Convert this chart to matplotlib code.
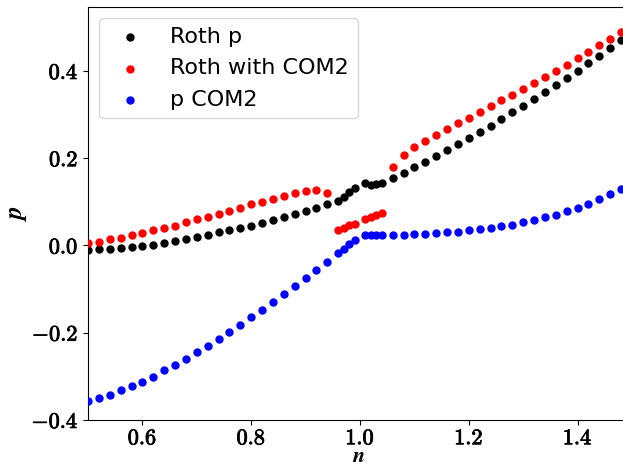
import matplotlib
matplotlib.use('Agg')
import matplotlib.pyplot as plt
import matplotlib.patheffects as pe
from matplotlib.ticker import FuncFormatter

plt.rcParams['mathtext.fontset'] = 'cm'

###
# DATA
###
n = [0.50, 0.52, 0.54, 0.56, 0.58, 0.60, 0.62, 0.64, 0.66, 0.68,
     0.70, 0.72, 0.74, 0.76, 0.78, 0.80, 0.82, 0.84, 0.86, 0.88,
     0.90, 0.92, 0.94, 0.96, 0.97, 0.98, 0.99, 1.01, 1.02, 1.03,
     1.04, 1.06, 1.08, 1.10, 1.12, 1.14, 1.16, 1.18, 1.20, 1.22,
     1.24, 1.26, 1.28, 1.30, 1.32, 1.34, 1.36, 1.38, 1.40, 1.42,
     1.44, 1.46, 1.48]

roth_p = [-0.011, -0.009, -0.008, -0.005, -0.003, -0.001, 0.002, 0.006, 0.010, 0.015,
          0.020, 0.025, 0.031, 0.035, 0.039, 0.045, 0.051, 0.058, 0.065, 0.072,
          0.079, 0.086, 0.094, 0.103, 0.111, 0.122, 0.132, 0.143, 0.139, 0.142,
          0.144, 0.154, 0.167, 0.180, 0.191, 0.205, 0.219, 0.232, 0.246, 0.260,
          0.275, 0.290, 0.305, 0.320, 0.336, 0.351, 0.367, 0.384, 0.401, 0.418,
          0.434, 0.452, 0.471]

roth_com2 = [0.006, 0.009, 0.014, 0.018, 0.024, 0.029, 0.035, 0.041, 0.045, 0.054,
             0.060, 0.065, 0.073, 0.079, 0.086, 0.094, 0.099, 0.106, 0.114, 0.120,
             0.126, 0.128, 0.120, 0.035, 0.041, 0.046, 0.050, 0.061, 0.065, 0.070,
             0.074, 0.180, 0.207, 0.225, 0.240, 0.254, 0.267, 0.280, 0.292, 0.305,
             0.319, 0.333, 0.345, 0.358, 0.372, 0.386, 0.400, 0.413, 0.429, 0.443,
             0.459, 0.474, 0.489]

p_com2 = [-0.357, -0.350, -0.342, -0.332, -0.323, -0.312, -0.301, -0.286, -0.275, -0.260,
          -0.245, -0.231, -0.215, -0.199, -0.182, -0.163, -0.147, -0.129, -0.111, -0.092,
          -0.075, -0.056, -0.037, -0.017, -0.008, 0.003, 0.012, 0.023, 0.023, 0.023,
          0.023, 0.023, 0.0245, 0.026, 0.027, 0.028, 0.031, 0.032, 0.035, 0.038,
          0.041, 0.045, 0.048, 0.053, 0.059, 0.065, 0.071, 0.079, 0.086, 0.096,
          0.106, 0.117, 0.129]

###
# PLOT
###
fig = plt.figure(figsize=(6.23, 4.68), dpi=100)
ax = fig.add_axes([0.1413, 0.1026, 0.8587, 0.8818])

ax.scatter(n, roth_p, s=25, color='black', label='Roth p', zorder=3)
ax.scatter(n, roth_com2, s=25, color='red', label='Roth with COM2', zorder=3)
ax.scatter(n, p_com2, s=25, color='blue', label='p COM2', zorder=3)

ax.set_xlim(0.5, 1.4835)
ax.set_ylim(-0.4, 0.546)
ax.set_xticks([0.6, 0.8, 1.0, 1.2, 1.4])
ax.set_yticks([-0.4, -0.2, 0.0, 0.2, 0.4])

fmt = FuncFormatter(lambda v, pos: r'$\mathbf{%.1f}$' % v)
ax.xaxis.set_major_formatter(fmt)
ax.yaxis.set_major_formatter(fmt)
ax.tick_params(labelsize=16)
ax.tick_params(axis='x', pad=2.5)
# thicken the bold digits a bit, like LaTeX bold extended
for lab in ax.get_xticklabels() + ax.get_yticklabels():
    lab.set_path_effects([pe.withStroke(linewidth=0.6, foreground='black')])
ax.spines['right'].set_visible(False)

ax.set_xlabel(r'$\mathbfit{n}$', fontsize=16, va='bottom')
ax.xaxis.set_label_coords(0.505, -0.112)
ax.set_ylabel(r'$\mathbfit{p}$', fontsize=18, labelpad=2)

ax.legend(loc='upper left', fontsize=16)

fig.savefig('out.png', dpi=100)
